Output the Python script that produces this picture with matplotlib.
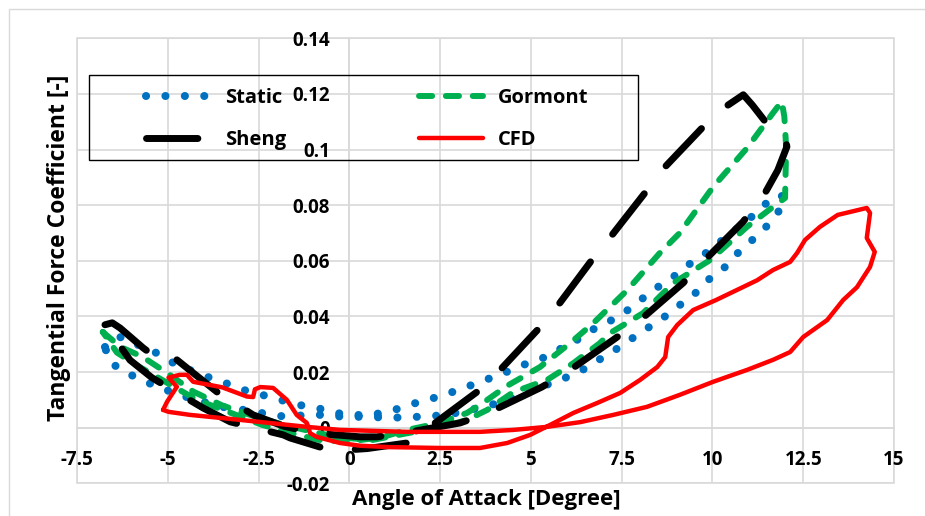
import matplotlib
matplotlib.use('Agg')
import matplotlib.pyplot as plt
from matplotlib.patches import Rectangle

# static polar, run around the pitching cycle
static_aoa = [-6.73, -6.5, -6.26, -5.82, -5.3, -4.85, -4.35, -3.89, -3.42, -2.92, -2.4, -1.9,
              -1.4, -0.89, -0.39, 0.07, 0.57, 1.04, 1.53, 2.03, 2.5, 3.0, 3.51, 3.96, 4.48,
              4.93, 5.45, 5.9, 6.36, 6.77, 7.23, 7.67, 8.09, 8.5, 8.92, 9.33, 9.74, 10.16,
              10.57, 10.98, 11.36, 11.78, 12.0,
              11.8, 11.45, 11.09, 10.7, 10.35, 9.94, 9.57, 9.17, 8.75, 8.34, 7.92, 7.45, 6.99,
              6.58, 6.13, 5.67, 5.25, 4.76, 4.23, 3.6, 2.95, 2.17, 1.67, 1.12, 0.57, -0.17,
              -0.67, -1.17, -1.69, -2.18, -2.73, -3.28, -3.8, -4.25, -4.7, -5.21, -5.71, -6.18,
              -6.6, -6.73]
static_ct = [0.029, 0.0322, 0.0326, 0.0298, 0.0268, 0.0233, 0.0205, 0.0182, 0.0161, 0.0136,
             0.0118, 0.0100, 0.0082, 0.0071, 0.0053, 0.0046, 0.0045, 0.0057, 0.0075, 0.0098,
             0.0112, 0.0136, 0.0160, 0.0182, 0.0208, 0.0233, 0.0256, 0.0290, 0.0322, 0.0358,
             0.0387, 0.0423, 0.0466, 0.0506, 0.0542, 0.0585, 0.0620, 0.0663, 0.0705, 0.0746,
             0.0794, 0.0837, 0.0830,
             0.0772, 0.0718, 0.0674, 0.0628, 0.0578, 0.0538, 0.0488, 0.0448, 0.0405, 0.0369,
             0.0333, 0.0290, 0.0254, 0.0218, 0.0190, 0.0163, 0.0148, 0.0118, 0.0093, 0.0072,
             0.0053, 0.0039, 0.0039, 0.0035, 0.0039, 0.0039, 0.0046, 0.0046, 0.0039, 0.0046,
             0.0062, 0.0068, 0.0085, 0.0100, 0.0120, 0.0143, 0.0171, 0.0200, 0.0236, 0.029]

# Gormont dynamic stall model
gormont_aoa = [-6.79, -6.3, -5.7, -5.0, -4.3, -3.5, -2.6, -1.8, -1.0, -0.3, 0.65, 1.59, 2.5,
               3.24, 3.8, 4.52, 5.45, 6.17, 6.9, 7.18, 8.09, 8.92, 9.94, 10.95, 11.67, 12.0,
               12.03, 11.98, 11.91, 11.67, 10.95, 10.02, 9.1, 8.55, 7.65, 6.72, 6.08, 5.25,
               4.34, 3.68, 3.24, 2.5, 1.59, 0.93, 0.0, -0.8, -1.6, -2.4, -3.3, -4.2, -5.0,
               -5.8, -6.4, -6.79]
gormont_ct = [0.0344, 0.0290, 0.0255, 0.0195, 0.0130, 0.0080, 0.0040, 0.0010, -0.0015,
              -0.0035, -0.0044, -0.0020, 0.0000, 0.0028, 0.0064, 0.0128, 0.0172, 0.0232,
              0.0304, 0.0340, 0.0412, 0.0520, 0.0603, 0.0722, 0.0794, 0.0826, 0.1010,
              0.1118, 0.1173, 0.1132, 0.1005, 0.0866, 0.0700, 0.0628, 0.0494, 0.0376,
              0.0304, 0.0218, 0.0150, 0.0089, 0.0053, 0.0017, -0.0008, -0.0033, -0.0050,
              -0.0045, -0.0020, 0.0010, 0.0055, 0.0100, 0.0160, 0.0220, 0.0270, 0.0344]

# Sheng dynamic stall model
sheng_aoa = [-6.73, -6.53, -6.31, -5.68, -5.16, -5.0, -4.75, -4.34, -3.64, -2.65, -1.8,
             -0.94, 0.3, 0.76, 1.48, 3.05, 3.82, 5.3, 6.0, 7.26, 7.95, 9.19, 9.74, 10.84,
             11.39, 11.8, 12.05, 12.0, 11.53, 11.1, 10.85, 10.43, 9.79, 8.69, 8.2, 7.23,
             6.68, 5.8, 5.2, 4.1, 3.51, 2.22, 1.59, 0.5, -0.06, -0.8, -1.63, -1.82, -3.28,
             -4.03, -5.43, -6.04, -6.73]
sheng_ct = [0.0370, 0.0377, 0.0358, 0.0287, 0.0236, 0.0248, 0.0244, 0.0201, 0.0128, 0.0046,
            0.0005, -0.0020, -0.0033, -0.0033, -0.0020, 0.0017, 0.0053, 0.0146, 0.0200,
            0.0315, 0.0380, 0.0520, 0.0596, 0.0740, 0.0830, 0.0926, 0.1010, 0.1050, 0.1088,
            0.1160, 0.1197, 0.1160, 0.1088, 0.0937, 0.0854, 0.0692, 0.0603, 0.0449, 0.0354,
            0.0200, 0.0128, 0.0003, -0.0055, -0.0075, -0.0080, -0.0070, -0.0037, -0.0026,
            0.0021, 0.0071, 0.0179, 0.0243, 0.0370]

# CFD
cfd_aoa = [-5.13, -4.98, -4.39, -3.01, -1.17, -0.26, 1.59, 3.6, 4.52, 5.45, 6.36, 7.27, 8.2,
           9.1, 10.02, 10.96, 11.67, 12.14, 12.5, 13.16, 13.6, 13.98, 14.34, 14.47, 14.25,
           14.34, 14.25, 13.45, 12.96, 12.55, 12.33, 12.14, 11.67, 11.23, 10.1, 9.47, 9.03,
           8.78, 8.7, 8.48, 8.01, 7.46, 6.83, 6.17, 5.53, 4.98, 4.35, 3.6, 2.5, 1.12, 0.3,
           -0.26, -0.9, -1.08, -1.17, -1.45, -1.72, -2.1, -2.45, -2.6, -2.65, -2.82, -3.5,
           -4.3, -4.47, -4.67, -4.98, -4.75, -5.02, -5.13]
cfd_ct = [0.0064, 0.0057, 0.0046, 0.0028, 0.0003, -0.0008, -0.0015, -0.0015, -0.0008,
          0.0003, 0.0020, 0.0046, 0.0075, 0.0118, 0.0165, 0.0208, 0.0244, 0.0272, 0.0326,
          0.0387, 0.0459, 0.0505, 0.0578, 0.0632, 0.0682, 0.0772, 0.0790, 0.0765, 0.0722,
          0.0675, 0.0628, 0.0596, 0.0567, 0.0530, 0.0459, 0.0423, 0.0369, 0.0326, 0.0254,
          0.0218, 0.0172, 0.0125, 0.0089, 0.0053, 0.0010, -0.0026, -0.0055, -0.0073,
          -0.0073, -0.0070, -0.0065, -0.0055, -0.0033, -0.0020, 0.0017, 0.0046, 0.0100,
          0.0143, 0.0146, 0.0138, 0.0110, 0.0112, 0.0145, 0.0165, 0.0190, 0.0190, 0.0180,
          0.0147, 0.0093, 0.0064]

x_ticks = [-7.5, -5, -2.5, 0, 2.5, 5, 7.5, 10, 12.5, 15]
x_tick_labels = ['-7.5', '-5', '-2.5', '0', '2.5', '5', '7.5', '10', '12.5', '15']
y_ticks = [-0.02, 0, 0.02, 0.04, 0.06, 0.08, 0.1, 0.12, 0.14]
y_tick_labels = ['-0.02', '0', '0.02', '0.04', '0.06', '0.08', '0.1', '0.12', '0.14']

plt.rcParams['font.family'] = ['Open Sans', 'DejaVu Sans']
plt.rcParams['font.weight'] = 'bold'

W, H = 925, 516
grid_grey = '#D9D9D9'

fig = plt.figure(figsize=(W / 100, H / 100), dpi=100)
ax = fig.add_axes([77 / W, 1 - 483.3 / H, 817 / W, 445 / H])

h_static, = ax.plot(static_aoa, static_ct, color='#0070C0', lw=5.8, linestyle=(0, (0.01, 2.4)),
                    dash_capstyle='round', dash_joinstyle='round', label='Static')
h_gormont, = ax.plot(gormont_aoa, gormont_ct, color='#00B050', lw=4.3, linestyle=(0, (2.2, 2.3)),
                     dash_capstyle='round', dash_joinstyle='round', label='Gormont')
h_sheng, = ax.plot(sheng_aoa, sheng_ct, color='black', lw=5.0, linestyle=(0, (7.4, 5.1)),
                   dash_capstyle='round', dash_joinstyle='round', label='Sheng')
h_cfd, = ax.plot(cfd_aoa, cfd_ct, color='#FF0000', lw=3.2,
                 solid_capstyle='round', solid_joinstyle='round', label='CFD')

ax.set_xlim(-7.5, 15)
ax.set_ylim(-0.02, 0.14)
ax.set_xticks(x_ticks)
ax.set_xticklabels(x_tick_labels, fontweight='bold')
ax.set_yticks(y_ticks)
ax.set_yticklabels(y_tick_labels, fontweight='bold')
ax.tick_params(axis='x', length=0, labelsize=13.5, pad=16)
ax.tick_params(axis='y', length=0, labelsize=13.5, pad=14)

ax.grid(True, color=grid_grey, lw=1.2)
ax.set_axisbelow(True)
ax.spines['top'].set_visible(False)
ax.spines['right'].set_visible(False)
ax.spines['left'].set_position(('data', 0))
ax.spines['bottom'].set_position(('data', 0))
for side in ['left', 'bottom']:
    ax.spines[side].set_color(grid_grey)
    ax.spines[side].set_linewidth(1.2)
    ax.spines[side].set_zorder(0.5)
# plot area border
ax.add_patch(Rectangle((0, 0), 1, 1, transform=ax.transAxes, fill=False,
                       edgecolor=grid_grey, lw=1.2, clip_on=False, zorder=0.5))

ax.set_xlabel('Angle of Attack [Degree]', fontsize=16, fontweight='bold', va='center')
ax.xaxis.set_label_coords(0.501, (483.3 - 499) / 445)
ax.set_ylabel('Tangential Force Coefficient [-]', fontsize=16.5, fontweight='bold', va='center')
ax.yaxis.set_label_coords((59 - 77) / 817, (483.3 - 248) / 445)

leg = ax.legend(handles=[h_static, h_sheng, h_gormont, h_cfd], ncol=2, frameon=False,
                loc='center left', bbox_to_anchor=(146 / W, 1 - 119 / H),
                bbox_transform=fig.transFigure, borderpad=0, borderaxespad=0,
                handlelength=3.2, handletextpad=0.75, columnspacing=6.55, labelspacing=1.1,
                prop={'size': 14.5, 'weight': 'bold'})
fig.add_artist(Rectangle((89 / W, 1 - 160 / H), (638 - 89) / W, 85 / H,
                         transform=fig.transFigure, fill=False, edgecolor='black', lw=1.0))

# chart area border
fig.add_artist(Rectangle((9 / W, -0.1), 1.2, 1.1 - 9 / H, transform=fig.transFigure,
                         fill=False, edgecolor=grid_grey, lw=1.0))

fig.savefig('out.png', dpi=100)
